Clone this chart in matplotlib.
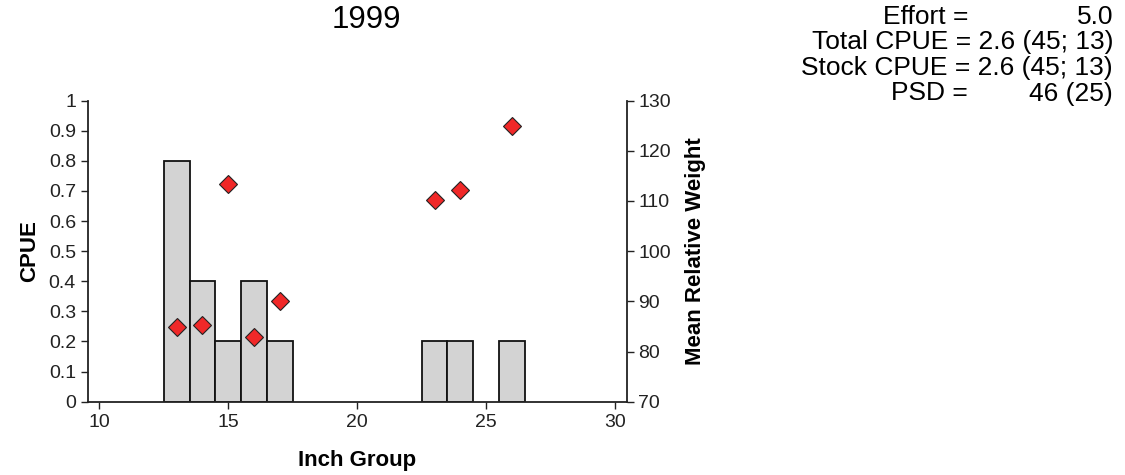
import matplotlib
matplotlib.use("Agg")
import matplotlib.pyplot as plt

plt.rcParams['font.family'] = ['Liberation Sans', 'DejaVu Sans']

# CPUE by inch group (bars)
inch = [13, 14, 15, 16, 17, 23, 24, 26]
cpue = [0.8, 0.4, 0.2, 0.4, 0.2, 0.2, 0.2, 0.2]

# mean relative weight by inch group (diamonds)
wr_inch = [13, 14, 15, 16, 17, 23, 24, 26]
wr = [84.9, 85.3, 113.3, 82.8, 90.1, 110.1, 112.1, 124.9]

# summary block, top right
stat_names = ["Effort =", "", "", "PSD ="]
stat_vals = ["5.0", "Total CPUE = 2.6 (45; 13)", "Stock CPUE = 2.6 (45; 13)", "46 (25)"]

fig = plt.figure(figsize=(11.25, 4.75), dpi=100)
ax = fig.add_axes([0.078, 0.1543, 0.479, 0.634])
ax2 = ax.twinx()

ax.bar(inch, cpue, width=1.0, color="#d3d3d3", edgecolor="#111111", linewidth=1.3, zorder=2)
ax2.plot(wr_inch, wr, linestyle="none", marker="D", markersize=9,
         markerfacecolor="#f02828", markeredgecolor="#222222", markeredgewidth=0.8, zorder=3)

ax.set_xlim(9.55, 30.45)
ax.set_ylim(0, 1)
ax2.set_ylim(70, 130)
ax.set_xticks([10, 15, 20, 25, 30])
ax.set_yticks([i / 10 for i in range(11)])
ax.set_yticklabels(["0", "0.1", "0.2", "0.3", "0.4", "0.5", "0.6", "0.7", "0.8", "0.9", "1"])
ax2.set_yticks(range(70, 131, 10))

for a in (ax, ax2):
    a.spines['top'].set_visible(False)
    for s in a.spines.values():
        s.set_linewidth(1.3)
        s.set_color("#222222")
    a.tick_params(direction="out", length=5, width=1, labelsize=14, colors="#222222")
ax2.spines['left'].set_visible(False)
ax2.spines['bottom'].set_visible(False)
ax.spines['right'].set_visible(False)

ax.set_xlabel("Inch Group", fontsize=16, fontweight="bold", labelpad=14)
ax.set_ylabel("CPUE", fontsize=16, fontweight="bold", labelpad=6)
ax2.set_ylabel("Mean Relative Weight", fontsize=16, fontweight="bold", labelpad=10)

fig.text(366 / 1125, 1 - 20 / 475, "1999", fontsize=22.5, ha="center", va="center")

for i, (n, v) in enumerate(zip(stat_names, stat_vals)):
    y = 1 - (17 + 25.5 * i) / 475
    if n:
        fig.text(968 / 1125, y, n, fontsize=19, ha="right", va="center")
    fig.text(1113 / 1125, y, v, fontsize=19, ha="right", va="center")

fig.savefig("out.png", dpi=100)
